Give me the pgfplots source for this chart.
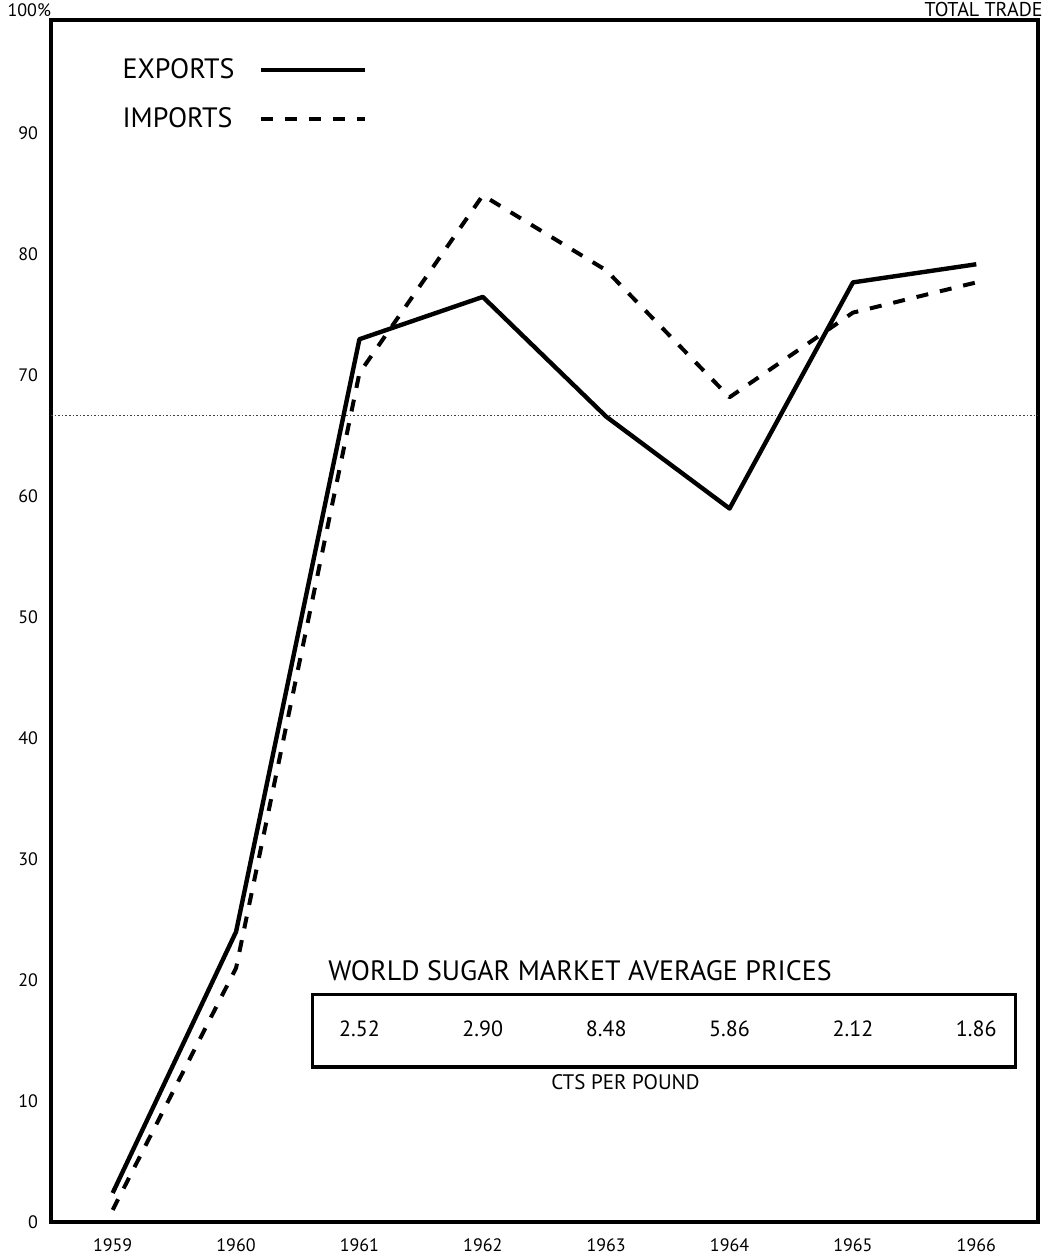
\documentclass[border=0pt]{standalone}
\usepackage{fontspec}
\setmainfont{PT Sans}
\usepackage{pgfplots}
\pgfplotsset{compat=1.18}
\begin{document}
\begin{tikzpicture}
\path[use as bounding box] (-25.5pt,-18.5pt) rectangle (498pt,611pt);
\begin{axis}[
  at={(0,0)}, anchor=south west,
  scale only axis, width=493.5pt, height=601pt,
  xmin=1958.5, xmax=1966.5, ymin=0, ymax=99.4,
  xtick={1959,1960,1961,1962,1963,1964,1965,1966},
  xticklabels={1959,1960,1961,1962,1963,1964,1965,1966},
  ytick={0,10,20,30,40,50,60,70,80,90},
  major tick length=0pt,
  axis line style={line width=2pt},
  /pgf/number format/assume math mode=true,
  xticklabel style={font=\fontsize{9}{10}\selectfont, yshift=-5pt},
  yticklabel style={font=\fontsize{9}{10}\selectfont, xshift=-3pt},
  legend plot pos=right,
  legend cell align=left,
  legend image code/.code={\path (0pt,0pt); \draw[#1] (10pt,0pt) -- (62pt,0pt);},
  legend style={draw=none, fill=none, at={(0.062,0.975)}, anchor=north west,
    font=\fontsize{14}{16}\selectfont, row sep=9pt},
  clip=false,
]
\addplot[black!75, line width=0.8pt, densely dotted, forget plot]
  coordinates {(1958.5,66.7) (1966.5,66.7)};
\addplot[black, line width=2.2pt, line join=round]
  coordinates {(1959,2.4) (1960,24.0) (1961,73.0) (1962,76.5) (1963,66.6) (1964,59.0) (1965,77.7) (1966,79.2)};
\addlegendentry{EXPORTS}
\addplot[black, line width=2pt, dash pattern=on 6pt off 6pt, line join=round]
  coordinates {(1959,1.0) (1960,21.0) (1961,70.2) (1962,84.9) (1963,78.7) (1964,68.2) (1965,75.2) (1966,77.7)};
\addlegendentry{IMPORTS}
\draw[line width=1.6pt] (rel axis cs:0.265,0.129) rectangle (rel axis cs:0.977,0.189);
\node[font=\fontsize{14}{16}\selectfont] at (rel axis cs:0.536,0.209) {WORLD SUGAR MARKET AVERAGE PRICES};
\node[font=\fontsize{11}{13}\selectfont] at (axis cs:1961,16.0) {2.52};
\node[font=\fontsize{11}{13}\selectfont] at (axis cs:1962,16.0) {2.90};
\node[font=\fontsize{11}{13}\selectfont] at (axis cs:1963,16.0) {8.48};
\node[font=\fontsize{11}{13}\selectfont] at (axis cs:1964,16.0) {5.86};
\node[font=\fontsize{11}{13}\selectfont] at (axis cs:1965,16.0) {2.12};
\node[font=\fontsize{11}{13}\selectfont] at (axis cs:1966,16.0) {1.86};
\node[font=\fontsize{10.5}{12}\selectfont] at (rel axis cs:0.582,0.116) {CTS PER POUND};
\node[anchor=east, inner sep=1pt, font=\fontsize{10}{11}\selectfont] at (rel axis cs:1,1) [xshift=3.5pt, yshift=5pt] {TOTAL TRADE};
\node[inner sep=1pt, font=\fontsize{9}{10}\selectfont] at (rel axis cs:-0.022,1.0) [yshift=5pt] {100\%};
\end{axis}
\end{tikzpicture}
\end{document}
